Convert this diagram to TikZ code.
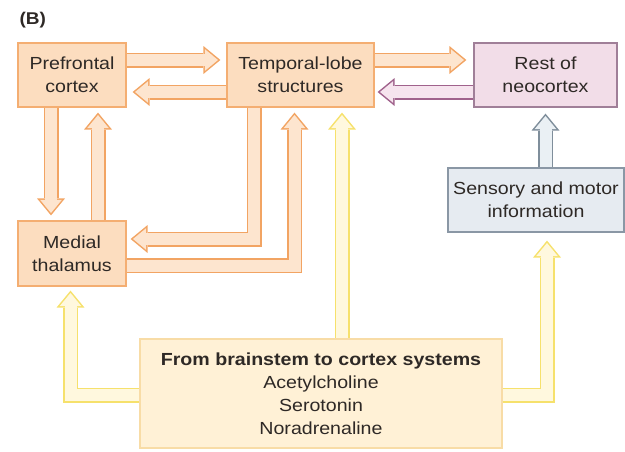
\documentclass[tikz,border=0pt]{standalone}
\usepackage{fontspec}
\setmainfont[FakeStretch=1.12]{Liberation Sans}
\usetikzlibrary{arrows.meta,backgrounds}
\definecolor{ink}{HTML}{2E2926}
\definecolor{cortexfill}{HTML}{FCDDBF}
\definecolor{cortexline}{HTML}{F4AE72}
\definecolor{loopline}{HTML}{F2A463}
\definecolor{loopfill}{HTML}{FDE5CF}
\definecolor{neofill}{HTML}{F2DDE8}
\definecolor{neoline}{HTML}{A07F98}
\definecolor{backline}{HTML}{A0628C}
\definecolor{backfill}{HTML}{F6E4EE}
\definecolor{sensefill}{HTML}{E6EBF1}
\definecolor{senseline}{HTML}{8A97A5}
\definecolor{inline}{HTML}{7F8E9B}
\definecolor{infill}{HTML}{EAF0F4}
\definecolor{stemfill}{HTML}{FFF1D6}
\definecolor{stemline}{HTML}{F8DCA6}
\definecolor{riseline}{HTML}{F6E16C}
\definecolor{risefill}{HTML}{FFF8DE}

% hollow arrow: outline colour, fill colour, path
\newcommand{\hollow}[3]{%
  \draw[line width=15pt, draw=#1,
    -{Triangle[length=17pt,width=28pt,line width=0pt]}] #3;
  \draw[line width=12pt, draw=#2, shorten >=2.4pt,
    -{Triangle[length=13.1pt,width=21.6pt,line width=0pt]}] #3;
}

\begin{document}
\begin{tikzpicture}[
  x=1pt, y=-1pt,
  font=\fontsize{17.5}{23}\selectfont,
  area/.style={draw, line width=1.2pt, align=center, inner sep=0pt, text=ink},
  cortex/.style={area, fill=cortexfill, draw=cortexline},
  neo/.style={area, fill=neofill, draw=neoline},
  sense/.style={area, fill=sensefill, draw=senseline},
  stem/.style={area, fill=stemfill, draw=stemline}
]
\useasboundingbox (0,0) rectangle (625,451);

\node[anchor=north west, font=\fontsize{17}{20}\selectfont\bfseries, text=ink]
  (tag) at (16,9) {(B)};

\node[cortex, minimum width=108pt, minimum height=64pt] (pfc) at (72,75)
  {Prefrontal\\cortex};
\node[cortex, minimum width=147pt, minimum height=64pt] (tls) at (300.5,75)
  {Temporal-lobe\\structures};
\node[neo, minimum width=143pt, minimum height=64pt] (rest) at (545.5,75)
  {Rest of\\neocortex};
\node[sense, minimum width=176pt, minimum height=64pt] (sens) at (536,200)
  {Sensory and motor\\information};
\node[cortex, minimum width=108pt, minimum height=65pt] (mth) at (72,253.5)
  {Medial\\thalamus};
\node[stem, minimum width=362pt, minimum height=109pt] (brs) at (321,393.5)
  {\textbf{From brainstem to cortex systems}\\Acetylcholine\\Serotonin\\Noradrenaline};

\begin{scope}[on background layer]
  \hollow{loopline}{loopfill}{([yshift=15pt]pfc.east) -- ([yshift=15pt,xshift=-6pt]tls.west)}
  \hollow{loopline}{loopfill}{([yshift=-17pt]tls.west) -- ([yshift=-17pt,xshift=6pt]pfc.east)}
  \hollow{loopline}{loopfill}{([yshift=15pt]tls.east) -- ([yshift=15pt,xshift=-7pt]rest.west)}
  \hollow{backline}{backfill}{([yshift=-17pt]rest.west) -- ([yshift=-17pt,xshift=3pt]tls.east)}
  \hollow{inline}{infill}{(rest.south |- sens.north) -- ([yshift=-6pt]rest.south)}
  \hollow{loopline}{loopfill}{([xshift=-21pt]pfc.south) -- ([xshift=-21pt,yshift=5pt]mth.north)}
  \hollow{loopline}{loopfill}{([xshift=26pt]mth.north) -- ([xshift=26pt,yshift=-5pt]pfc.south)}
  \hollow{loopline}{loopfill}{([xshift=-46.5pt]tls.south) |- ([yshift=14.5pt,xshift=4pt]mth.east)}
  \hollow{loopline}{loopfill}{([yshift=-12pt]mth.east) -| ([xshift=-6pt,yshift=-5pt]tls.south)}
  \hollow{riseline}{risefill}{([xshift=41.5pt]tls.south |- brs.north) -- ([xshift=41.5pt,yshift=-5pt]tls.south)}
  \hollow{riseline}{risefill}{([yshift=-1.5pt]brs.west) -| ([xshift=-1.5pt,yshift=-4pt]mth.south)}
  \hollow{riseline}{risefill}{([yshift=-1.5pt]brs.east) -| ([xshift=11pt,yshift=-8pt]sens.south)}
\end{scope}

\end{tikzpicture}
\end{document}
